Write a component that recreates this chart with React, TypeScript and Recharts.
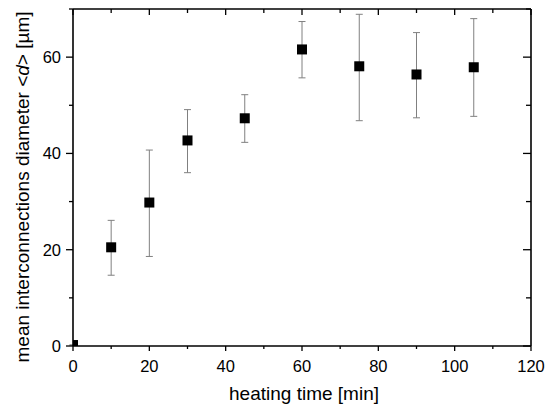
import { ScatterChart, Scatter, XAxis, YAxis, ErrorBar, Label } from "recharts"

// heating time [min]
const times = [0, 10, 20, 30, 45, 60, 75, 90, 105]
// mean interconnections diameter [µm]
const diameters = [0.2, 20.5, 29.8, 42.7, 47.3, 61.6, 58.1, 56.4, 57.9]
const errLow = [0, 5.8, 11.2, 6.7, 5.0, 5.9, 11.3, 9.0, 10.2]
const errHigh = [0, 5.6, 10.9, 6.4, 4.9, 5.8, 10.8, 8.7, 10.1]

const xTicks = [0, 10, 20, 30, 40, 50, 60, 70, 80, 90, 100, 110, 120]
const yTicks = [0, 10, 20, 30, 40, 50, 60, 70]

const data = times.map((t, i) => ({
  time: t,
  d: diameters[i],
  err: [errLow[i], errHigh[i]],
}))

const font = "'Liberation Sans', Arial, sans-serif"

const BottomTick = (props: any) => {
  const { x, y, payload } = props
  const major = payload.value % 20 === 0
  return (
    <g>
      <line x1={x} y1={y} x2={x} y2={y + (major ? 5 : 3)} stroke="#000" strokeWidth={1.3} />
      {major && (
        <text x={x} y={y + 25.5} textAnchor="middle" fontSize={16.5} fontFamily={font} fill="#000">
          {payload.value}
        </text>
      )}
    </g>
  )
}

const LeftTick = (props: any) => {
  const { x, y, payload } = props
  const major = payload.value % 20 === 0
  return (
    <g>
      <line x1={x} y1={y} x2={x - (major ? 7 : 4)} y2={y} stroke="#000" strokeWidth={1.3} />
      {major && (
        <text x={x - 12} y={y + 6} textAnchor="end" fontSize={16.5} fontFamily={font} fill="#000">
          {payload.value}
        </text>
      )}
    </g>
  )
}

const TopTick = (props: any) => {
  const { x, y, payload } = props
  const major = payload.value % 20 === 0
  return <line x1={x} y1={y} x2={x} y2={y + (major ? 6 : 4)} stroke="#000" strokeWidth={1.3} />
}

const RightTick = (props: any) => {
  const { x, y, payload } = props
  const major = payload.value % 20 === 0
  return <line x1={x} y1={y} x2={x - (major ? 8 : 5)} y2={y} stroke="#000" strokeWidth={1.3} />
}

// filled square marker, ~10px side
const SquareMarker = (props: any) => {
  const { cx, cy } = props
  if (cx == null || cy == null) return <g />
  return <rect x={cx - 5} y={cy - 5} width={10} height={10} fill="#000" />
}

const NoMarker = () => <g />

export default function App() {
  return (
    <div style={{ position: "absolute", left: 0, top: 0, background: "#fff" }}>
      <ScatterChart width={547} height={407} margin={{ top: 8, right: 15, bottom: 0, left: 0 }}>
        <XAxis
          xAxisId="main"
          dataKey="time"
          type="number"
          domain={[0, 120]}
          ticks={xTicks}
          allowDataOverflow
          height={61}
          tickSize={0}
          tickMargin={0}
          tickLine={false}
          tick={<BottomTick />}
          axisLine={{ stroke: "#000", strokeWidth: 1.6 }}
        >
          <Label
            content={() => (
              <text x={304} y={400} textAnchor="middle" fontSize={19} fontFamily={font} fill="#000">
                heating time [min]
              </text>
            )}
          />
        </XAxis>
        <XAxis
          xAxisId="top"
          orientation="top"
          dataKey="time"
          type="number"
          domain={[0, 120]}
          ticks={xTicks}
          height={1}
          tickSize={0}
          tickMargin={0}
          tickLine={false}
          tick={<TopTick />}
          axisLine={{ stroke: "#000", strokeWidth: 1.6 }}
        />

        <YAxis
          yAxisId="main"
          dataKey="d"
          type="number"
          domain={[0, 70]}
          ticks={yTicks}
          allowDataOverflow
          width={73}
          tickSize={0}
          tickMargin={0}
          tickLine={false}
          tick={<LeftTick />}
          axisLine={{ stroke: "#000", strokeWidth: 1.6 }}
        >
          <Label
            content={() => (
              <text
                x={29}
                y={187}
                transform="rotate(-90 29 187)"
                textAnchor="middle"
                fontSize={19}
                fontFamily={font}
                fill="#000"
              >
                mean interconnections diameter &lt;<tspan fontStyle="italic">d</tspan>&gt; [µm]
              </text>
            )}
          />
        </YAxis>
        <YAxis
          yAxisId="right"
          orientation="right"
          dataKey="d"
          type="number"
          domain={[0, 70]}
          ticks={yTicks}
          width={1}
          tickSize={0}
          tickMargin={0}
          tickLine={false}
          tick={<RightTick />}
          axisLine={{ stroke: "#000", strokeWidth: 1.6 }}
        />

        {/* invisible series so the mirror axes (top/right) get drawn */}
        <Scatter
          data={data}
          xAxisId="top"
          yAxisId="right"
          shape={<NoMarker />}
          isAnimationActive={false}
        />

        <Scatter
          data={data}
          xAxisId="main"
          yAxisId="main"
          fill="#000"
          shape={<SquareMarker />}
          isAnimationActive={false}
        >
          <ErrorBar dataKey="err" direction="y" width={3.5} stroke="#808080" strokeWidth={1} isAnimationActive={false} />
        </Scatter>
      </ScatterChart>
    </div>
  )
}
